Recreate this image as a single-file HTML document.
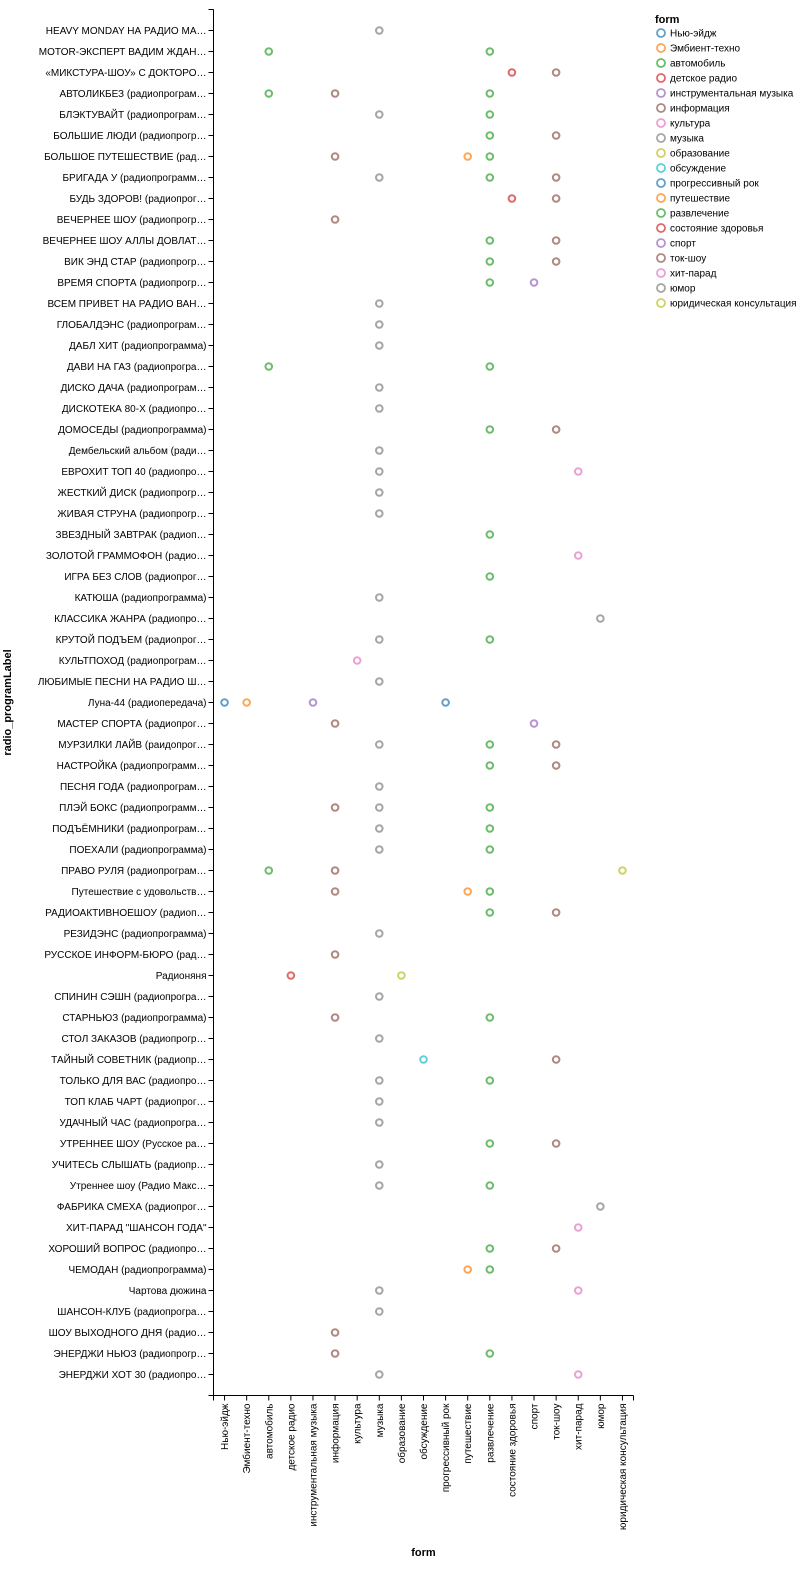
<!DOCTYPE html>
<html><head><meta charset="utf-8"><style>
body{margin:0;background:#fff;}
svg text{font-family:"Liberation Sans","DejaVu Sans",sans-serif;fill:#000;}
</style></head><body>
<svg id="chart" width="807" height="1566" xmlns="http://www.w3.org/2000/svg"></svg>
<script>
const categories = ["Нью-эйдж","Эмбиент-техно","автомобиль","детское радио","инструментальная музыка","информация","культура","музыка","образование","обсуждение","прогрессивный рок","путешествие","развлечение","состояние здоровья","спорт","ток-шоу","хит-парад","юмор","юридическая консультация"];
const programs = ["HEAVY MONDAY НА РАДИО МА…","MOTOR-ЭКСПЕРТ ВАДИМ ЖДАН…","«МИКСТУРА-ШОУ» С ДОКТОРО…","АВТОЛИКБЕЗ (радиопрограм…","БЛЭКТУВАЙТ (радиопрограм…","БОЛЬШИЕ ЛЮДИ (радиопрогр…","БОЛЬШОЕ ПУТЕШЕСТВИЕ (рад…","БРИГАДА У (радиопрограмм…","БУДЬ ЗДОРОВ!  (радиопрог…","ВЕЧЕРНЕЕ ШОУ (радиопрогр…","ВЕЧЕРНЕЕ ШОУ АЛЛЫ ДОВЛАТ…","ВИК ЭНД СТАР (радиопрогр…","ВРЕМЯ СПОРТА (радиопрогр…","ВСЕМ ПРИВЕТ НА РАДИО ВАН…","ГЛОБАЛДЭНС (радиопрограм…","ДАБЛ ХИТ (радиопрограмма)","ДАВИ НА ГАЗ (радиопрогра…","ДИСКО ДАЧА (радиопрограм…","ДИСКОТЕКА 80-Х (радиопро…","ДОМОСЕДЫ (радиопрограмма)","Дембельский альбом (ради…","ЕВРОХИТ ТОП 40 (радиопро…","ЖЕСТКИЙ ДИСК (радиопрогр…","ЖИВАЯ СТРУНА (радиопрогр…","ЗВЕЗДНЫЙ ЗАВТРАК (радиоп…","ЗОЛОТОЙ ГРАММОФОН (радио…","ИГРА БЕЗ СЛОВ (радиопрог…","КАТЮША (радиопрограмма)","КЛАССИКА ЖАНРА (радиопро…","КРУТОЙ ПОДЪЕМ (радиопрог…","КУЛЬТПОХОД (радиопрограм…","ЛЮБИМЫЕ ПЕСНИ НА РАДИО Ш…","Луна-44 (радиопередача)","МАСТЕР СПОРТА (радиопрог…","МУРЗИЛКИ ЛАЙВ (раидопрог…","НАСТРОЙКА (радиопрограмм…","ПЕСНЯ ГОДА (радиопрограм…","ПЛЭЙ БОКС (радиопрограмм…","ПОДЪЁМНИКИ (радиопрограм…","ПОЕХАЛИ (радиопрограмма)","ПРАВО РУЛЯ (радиопрограм…","Путешествие с удовольств…","РАДИОАКТИВНОЕШОУ (радиоп…","РЕЗИДЭНС (радиопрограмма)","РУССКОЕ ИНФОРМ-БЮРО (рад…","Радионяня","СПИНИН СЭШН (радиопрогра…","СТАРНЬЮЗ (радиопрограмма)","СТОЛ ЗАКАЗОВ (радиопрогр…","ТАЙНЫЙ СОВЕТНИК (радиопр…","ТОЛЬКО ДЛЯ ВАС (радиопро…","ТОП КЛАБ ЧАРТ (радиопрог…","УДАЧНЫЙ ЧАС (радиопрогра…","УТРЕННЕЕ ШОУ (Русское ра…","УЧИТЕСЬ СЛЫШАТЬ (радиопр…","Утреннее шоу (Радио Макс…","ФАБРИКА СМЕХА (радиопрог…","ХИТ-ПАРАД \"ШАНСОН ГОДА\"","ХОРОШИЙ ВОПРОС (радиопро…","ЧЕМОДАН (радиопрограмма)","Чартова дюжина","ШАНСОН-КЛУБ (радиопрогра…","ШОУ ВЫХОДНОГО ДНЯ (радио…","ЭНЕРДЖИ НЬЮЗ (радиопрогр…","ЭНЕРДЖИ ХОТ 30 (радиопро…"];
const programForms = [[7],[2,12],[13,15],[2,5,12],[7,12],[12,15],[5,11,12],[7,12,15],[13,15],[5],[12,15],[12,15],[12,14],[7],[7],[7],[2,12],[7],[7],[12,15],[7],[7,16],[7],[7],[12],[16],[12],[7],[17],[7,12],[6],[7],[0,1,4,10],[5,14],[7,12,15],[12,15],[7],[5,7,12],[7,12],[7,12],[2,5,18],[5,11,12],[12,15],[7],[5],[3,8],[7],[5,12],[7],[9,15],[7,12],[7],[7],[12,15],[7],[7,12],[17],[16],[12,15],[11,12],[7,16],[7],[5],[5,12],[7,16]];
const colors = ["#1f77b4","#ff7f0e","#2ca02c","#d62728","#9467bd","#8c564b","#e377c2","#7f7f7f","#bcbd22","#17becf"];

const NS="http://www.w3.org/2000/svg";
const svg=document.getElementById('chart');
function mk(tag,attrs,parent){const e=document.createElementNS(NS,tag);for(const k in attrs)e.setAttribute(k,attrs[k]);(parent||svg).appendChild(e);return e;}
const X0=213.5,X1=633.5,Y0=9.5,Y1=1395.5;
const xStep=(X1-X0)/categories.length;
function xScale(i){return X0+xStep*(i+0.5);}
const yStep=(Y1-Y0)/(programs.length+1);
function yScale(i){return Y0+yStep*(i+1);}
function color(i){return colors[i%colors.length];}

// y axis
const yAxis=mk('g',{});


mk('line',{x1:X0,x2:X0,y1:Y0,y2:Y1,stroke:'#000'},yAxis);
mk('line',{x1:X0-5,x2:X0,y1:Y0,y2:Y0,stroke:'#000'},yAxis);
mk('line',{x1:X0-5,x2:X0,y1:Y1,y2:Y1,stroke:'#000'},yAxis);
programs.forEach((p,i)=>{
  const y=yScale(i);
  mk('line',{x1:X0-5,x2:X0,y1:y,y2:y,stroke:'#000'},yAxis);
  const t=mk('text',{x:X0-7,y:y+3.5,'text-anchor':'end','font-size':10},yAxis);
  
  
  t.textContent=p;
});
const yt=mk('text',{transform:`translate(11,${(Y0+Y1)/2}) rotate(-90)`,'text-anchor':'middle','font-size':11,'font-weight':'bold'});


yt.textContent='radio_programLabel';

// x axis
const xAxis=mk('g',{});


mk('line',{x1:X0,x2:X1,y1:Y1,y2:Y1,stroke:'#000'},xAxis);
mk('line',{x1:X0,x2:X0,y1:Y1,y2:Y1+5,stroke:'#000'},xAxis);
mk('line',{x1:X1,x2:X1,y1:Y1,y2:Y1+5,stroke:'#000'},xAxis);
categories.forEach((c,i)=>{
  const x=xScale(i);
  mk('line',{x1:x,x2:x,y1:Y1,y2:Y1+5,stroke:'#000'},xAxis);
  const t=mk('text',{transform:`translate(${x+3.5},${Y1+8}) rotate(-90)`,'text-anchor':'end','font-size':10},xAxis);
  
  
  t.textContent=c;
});
const xt=mk('text',{x:(X0+X1)/2,y:1556,'text-anchor':'middle','font-size':11,'font-weight':'bold'});


xt.textContent='form';

// points
const pts=mk('g',{});


programForms.forEach((fs,i)=>{
  fs.forEach(f=>{
    const c=mk('circle',{cx:xScale(f),cy:yScale(i),r:3.3,fill:'none',stroke:color(f),'stroke-width':2,opacity:0.7},pts);
    
    
  });
});

// legend
const lg=mk('g',{});


const lt=mk('text',{x:655,y:23,'font-size':11,'font-weight':'bold'},lg);


lt.textContent='form';
categories.forEach((c,i)=>{
  const y=33+i*15;
  const g=mk('g',{},lg);
  
  
  mk('circle',{cx:661,cy:y,r:4,fill:'none',stroke:color(i),'stroke-width':1.8,opacity:0.7},g);
  const t=mk('text',{x:670,y:y+3.5,'font-size':10},g);
  t.textContent=c;
});
</script>
</body></html>
